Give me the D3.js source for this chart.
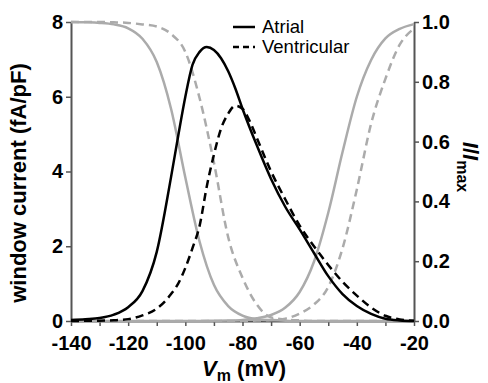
<!DOCTYPE html>
<html>
<head>
<meta charset="utf-8">
<script src="https://cdn.jsdelivr.net/npm/d3@7"></script>
<style>
  body { margin: 0; background: #fff; }
  svg text { font-family: Arial, "Liberation Sans", sans-serif; }
</style>
</head>
<body>
<div id="chart"></div>
<script>
// window currents (fA/pF), [Vm, value]
var atrialWindow = [[-140,0.03],[-135,0.05],[-130,0.08],[-125,0.17],[-120,0.37],[-115,0.8],[-110,1.85],[-105,3.85],[-102.5,4.95],[-100,6.0],[-97.5,6.85],[-95,7.2],[-92.5,7.33],[-90,7.25],[-87.5,7.03],[-85,6.68],[-82.5,6.22],[-80,5.68],[-75,4.7],[-70,3.8],[-65,3.05],[-60,2.45],[-55,1.82],[-50,1.2],[-45,0.72],[-40,0.4],[-35,0.19],[-30,0.06],[-25,0.015],[-20,0]];
var ventWindow = [[-140,0],[-135,0.005],[-130,0.01],[-125,0.02],[-120,0.05],[-115,0.15],[-110,0.33],[-105,0.72],[-102.5,1.0],[-100,1.42],[-97.5,1.95],[-95,2.55],[-92.5,3.6],[-90,4.45],[-87.5,5.15],[-85,5.55],[-82.5,5.76],[-80,5.68],[-77.5,5.35],[-75,4.9],[-70,4.0],[-65,3.25],[-60,2.55],[-55,2.0],[-50,1.5],[-45,1.05],[-40,0.68],[-35,0.36],[-30,0.14],[-25,0.04],[-20,0.005]];

// normalised I/Imax, one value per 5 mV from -140 to -20
var vm = d3.range(-140, -19, 5);
var atrialInact = [1,0.999,0.997,0.992,0.979,0.944,0.866,0.71,0.48,0.265,0.121,0.05,0.018,0.006,0.003,0.001,0,0,0,0,0,0,0,0,0];
var ventInact   = [1,1,1,0.999,0.997,0.992,0.985,0.96,0.9,0.745,0.53,0.28,0.145,0.055,0.012,0.005,0.002,0,0,0,0,0,0,0,0];
var atrialAct   = [0,0,0,0,0,0,0,0,0,0,0.0007,0.0016,0.0037,0.009,0.02,0.045,0.097,0.198,0.362,0.565,0.75,0.873,0.945,0.977,0.993];
var ventAct     = [0,0,0,0,0,0,0,0,0,0,0,0,0.0005,0.0014,0.0034,0.008,0.025,0.055,0.114,0.243,0.44,0.66,0.81,0.924,0.978];

var xTicks = d3.range(-140, -19, 10);
var leftTicks = [0, 2, 4, 6, 8];
var rightTicks = [0, 0.2, 0.4, 0.6, 0.8, 1.0];

var W = 488, H = 383;
var svg = d3.select("#chart").append("svg")
  .attr("width", W).attr("height", H);

var x = d3.scaleLinear().domain([-140, -20]).range([71, 414]);
var yL = d3.scaleLinear().domain([0, 8]).range([321, 22]);
var yR = d3.scaleLinear().domain([0, 1]).range([321, 22]);

var axisColor = "#555";

function styleAxis(g) {
  g.select(".domain").attr("stroke", axisColor).attr("stroke-width", 2);
  g.selectAll(".tick line").attr("stroke", axisColor).attr("stroke-width", 1.5);
  g.selectAll(".tick text")
    .attr("fill", "#000")
    .attr("font-size", "20px")
    .attr("font-weight", "bold")
    .attr("font-family", "Arial, 'Liberation Sans', sans-serif");
}

svg.append("g")
  .attr("transform", "translate(0,321)")
  .call(d3.axisBottom(x).tickValues(xTicks).tickSize(5).tickSizeOuter(0)
    .tickFormat(function(d) { return d % 20 === 0 ? String(d) : ""; }))
  .call(styleAxis)
  .call(function(g) { g.selectAll(".tick text").attr("dy", "1.05em"); });

svg.append("g")
  .attr("transform", "translate(71,0)")
  .call(d3.axisLeft(yL).tickValues(leftTicks).tickSize(5).tickSizeOuter(0)
    .tickFormat(function(d) { return String(d); }))
  .call(styleAxis);

svg.append("g")
  .attr("transform", "translate(414,0)")
  .call(d3.axisRight(yR).tickValues(rightTicks).tickSize(5).tickSizeOuter(0)
    .tickFormat(d3.format(".1f")))
  .call(styleAxis);

// curves
var lineL = d3.line().x(function(d) { return x(d[0]); }).y(function(d) { return yL(d[1]); })
  .curve(d3.curveMonotoneX);
var lineR = d3.line().x(function(d) { return x(d[0]); }).y(function(d) { return yR(d[1]); })
  .curve(d3.curveMonotoneX);

function pairs(vals) { return vm.map(function(v, i) { return [v, vals[i]]; }); }

var gray = "#ababab";
var dash = "8,5";
var series = [
  {d: pairs(atrialInact), line: lineR, color: gray, dash: null},
  {d: pairs(ventInact), line: lineR, color: gray, dash: dash},
  {d: pairs(atrialAct), line: lineR, color: gray, dash: null},
  {d: pairs(ventAct), line: lineR, color: gray, dash: dash},
  {d: atrialWindow, line: lineL, color: "#000", dash: null},
  {d: ventWindow, line: lineL, color: "#000", dash: dash}
];

svg.append("g").selectAll("path")
  .data(series)
  .enter().append("path")
  .attr("d", function(s) { return s.line(s.d); })
  .attr("fill", "none")
  .attr("stroke", function(s) { return s.color; })
  .attr("stroke-width", 2.5)
  .attr("stroke-dasharray", function(s) { return s.dash; });

// legend
var legend = [["Atrial", null], ["Ventricular", dash]];
var lg = svg.append("g").selectAll("g").data(legend).enter().append("g")
  .attr("transform", function(d, i) { return "translate(233," + (27 + i * 20) + ")"; });
lg.append("line").attr("x1", 0).attr("x2", 22).attr("y1", 0).attr("y2", 0)
  .attr("stroke", "#000").attr("stroke-width", 2.5)
  .attr("stroke-dasharray", function(d) { return d[1] ? "6,4" : null; });
lg.append("text").attr("x", 29).attr("y", 0).attr("dy", "0.35em")
  .attr("font-size", "18.5px").attr("fill", "#000").text(function(d) { return d[0]; });

// axis titles
svg.append("text")
  .attr("transform", "translate(26,183) rotate(-90)")
  .attr("text-anchor", "middle")
  .attr("font-size", "22px").attr("font-weight", "bold")
  .text("window current (fA/pF)");

var rt = svg.append("text")
  .attr("transform", "translate(463,167) rotate(90)")
  .attr("text-anchor", "middle")
  .attr("font-size", "22px").attr("font-weight", "bold");
rt.append("tspan").attr("font-style", "italic").text("I");
rt.append("tspan").text("/");
rt.append("tspan").attr("font-style", "italic").text("I");
rt.append("tspan").attr("font-size", "16px").attr("dy", "6").text("max");

var xt = svg.append("text")
  .attr("x", 244).attr("y", 376)
  .attr("text-anchor", "middle")
  .attr("font-size", "22px").attr("font-weight", "bold");
xt.append("tspan").attr("font-style", "italic").text("V");
xt.append("tspan").attr("font-size", "16px").attr("dy", "5").text("m");
xt.append("tspan").attr("dy", "-5").text(" (mV)");
</script>
</body>
</html>
